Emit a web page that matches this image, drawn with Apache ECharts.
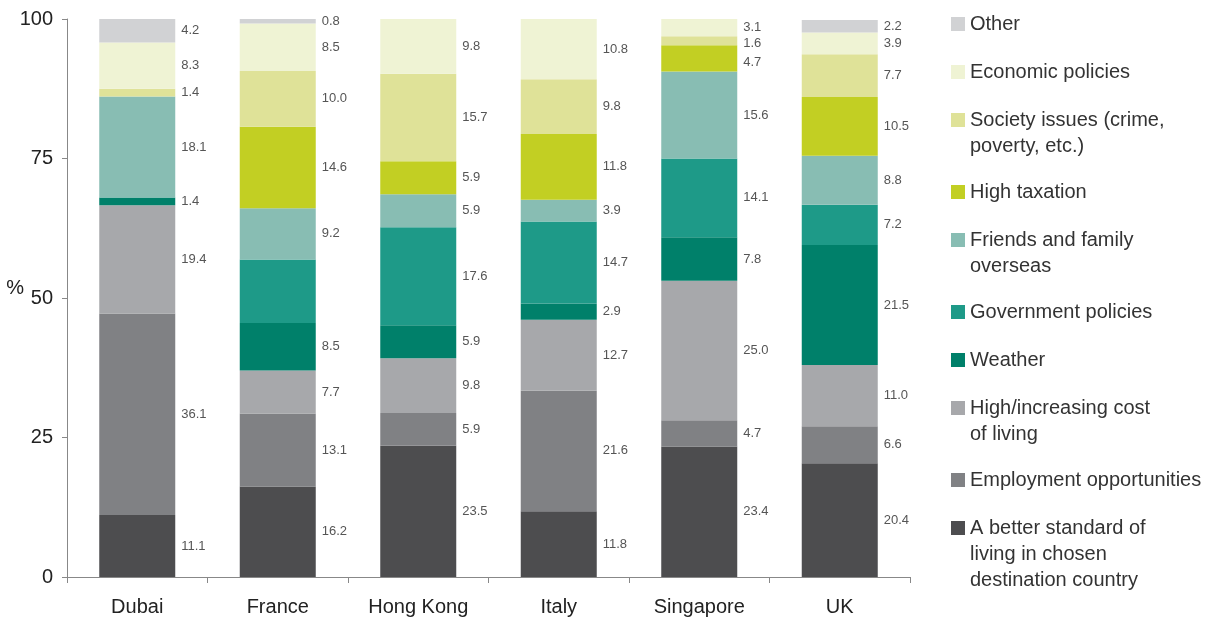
<!DOCTYPE html>
<html>
<head>
<meta charset="utf-8">
<title>Reasons for leaving</title>
<script src="https://cdn.jsdelivr.net/npm/echarts@6/dist/echarts.min.js"></script>
<style>
  html, body { margin: 0; padding: 0; background: #fff; }
  #main { width: 1222px; height: 621px; }
</style>
</head>
<body>
<div id="main"></div>
<script>
// categories on the x axis
const countries = ['Dubai', 'France', 'Hong Kong', 'Italy', 'Singapore', 'UK'];

// series values (%), bottom of the stack first
const betterStandard   = [11.1, 16.2, 23.5, 11.8, 23.4, 20.4];
const employment       = [36.1, 13.1, 5.9, 21.6, 4.7, 6.6];
const costOfLiving     = [19.4, 7.7, 9.8, 12.7, 25.0, 11.0];
const weather          = [1.4, 8.5, 5.9, 2.9, 7.8, 21.5];
const govPolicies      = [0, 11.4, 17.6, 14.7, 14.1, 7.2];
const friendsFamily    = [18.1, 9.2, 5.9, 3.9, 15.6, 8.8];
const highTaxation     = [0, 14.6, 5.9, 11.8, 4.7, 10.5];
const societyIssues    = [1.4, 10.0, 15.7, 9.8, 1.6, 7.7];
const economicPolicies = [8.3, 8.5, 9.8, 10.8, 3.1, 3.9];
const other            = [4.2, 0.8, 0, 0, 0, 2.2];

// legend names (bottom of the stack first) and how they wrap
const seriesNames = [
  'A better standard of living in chosen destination country',
  'Employment opportunities',
  'High/increasing cost of living',
  'Weather',
  'Government policies',
  'Friends and family overseas',
  'High taxation',
  'Society issues (crime, poverty, etc.)',
  'Economic policies',
  'Other'
];
const legendLabels = [
  'A better standard of\nliving in chosen\ndestination country',
  'Employment opportunities',
  'High/increasing cost\nof living',
  'Weather',
  'Government policies',
  'Friends and family\noverseas',
  'High taxation',
  'Society issues (crime,\npoverty, etc.)',
  'Economic policies',
  'Other'
];
const seriesValues = [
  betterStandard, employment, costOfLiving, weather, govPolicies,
  friendsFamily, highTaxation, societyIssues, economicPolicies, other
];
// segments that carry no value label in the original
const unlabelled = [['Government policies', 'France']];

const colors = [
  '#4d4d4f', '#808184', '#a7a8ab', '#00806a', '#1e9a88',
  '#88bdb3', '#c2cf23', '#dfe298', '#eff3d4', '#d1d2d4'
];

// small vertical nudges for crowded labels (px)
const labelNudge = {
  'Society issues (crime, poverty, etc.)|Singapore': 3,
  'High taxation|Singapore': 4
};

const FONT = 'Liberation Sans, Arial, sans-serif';

const chart = echarts.init(document.getElementById('main'));

let series = seriesNames.map((name, i) => ({
  name: name,
  type: 'bar',
  stack: 'total',
  barWidth: 76,
  itemStyle: { color: colors[i] },
  label: {
    show: true,
    position: 'right',
    distance: 6,
    fontFamily: FONT,
    fontSize: 13,
    color: '#555',
    formatter: p => (p.value > 0 ? p.value.toFixed(1) : '')
  },
  data: seriesValues[i].map((v, j) => {
    let hide = unlabelled.some(u => u[0] === name && u[1] === countries[j]);
    if (hide) return { value: v, label: { show: false } };
    let dy = labelNudge[name + '|' + countries[j]];
    if (dy) return { value: v, label: { offset: [0, dy] } };
    return v;
  })
}));

// one legend block per item, top to bottom, icon on the first text line
let legends = [];
let centerY = 21;
for (let i = seriesNames.length - 1; i >= 0; i--) {
  let lines = legendLabels[i].split('\n').length;
  let label = '\n'.repeat(lines - 1) + legendLabels[i];
  legends.push({
    orient: 'vertical',
    left: 951,
    top: centerY - 10 - (lines - 1) * 26,
    padding: 0,
    itemWidth: 14,
    itemHeight: 14,
    icon: 'rect',
    data: [seriesNames[i]],
    formatter: () => label,
    textStyle: { fontFamily: FONT, fontSize: 20, lineHeight: 26, color: '#333' }
  });
  centerY += 48 + 24 * (lines - 1);
}

let option = {
  animation: false,
  backgroundColor: '#fff',
  legend: legends,
  grid: { left: 67, right: 312, top: 19, bottom: 44, outerBoundsMode: 'none', containLabel: false },
  xAxis: {
    type: 'category',
    data: countries,
    axisLine: { lineStyle: { color: '#888' } },
    axisTick: { show: true, length: 6, lineStyle: { color: '#888' } },
    axisLabel: { fontFamily: FONT, fontSize: 20, color: '#222', margin: 20 }
  },
  yAxis: {
    type: 'value',
    min: 0,
    max: 100,
    interval: 25,
    name: '%',
    nameLocation: 'middle',
    nameRotate: 0,
    nameGap: 43,
    nameMoveOverlap: false,
    nameTextStyle: { fontFamily: FONT, fontSize: 20, color: '#222', align: 'right', verticalAlign: 'bottom' },
    axisLine: { show: true, lineStyle: { color: '#888' } },
    axisTick: { show: true, length: 5, lineStyle: { color: '#888' } },
    splitLine: { show: false },
    axisLabel: { fontFamily: FONT, fontSize: 20, color: '#222', margin: 14 }
  },
  series: series
};

chart.setOption(option);
</script>
</body>
</html>
